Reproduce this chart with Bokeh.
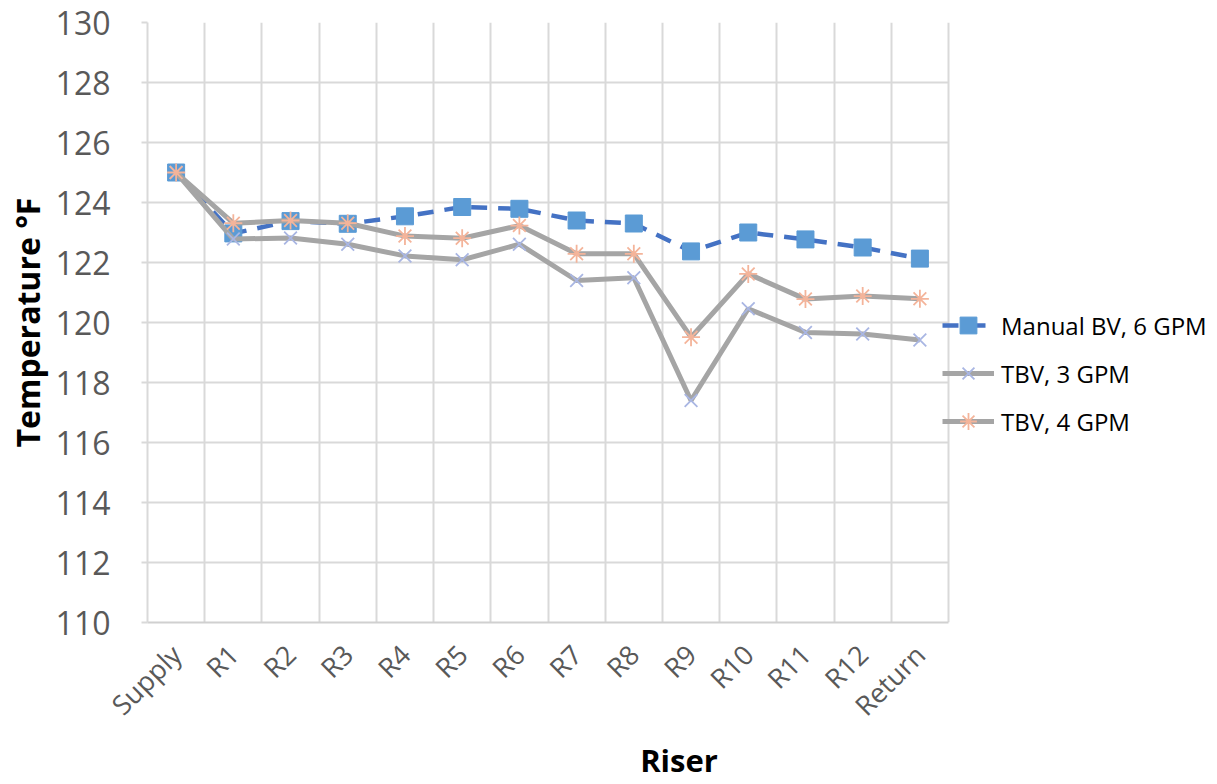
import numpy as np
from bokeh.plotting import figure
from bokeh.models import Legend, LegendItem, FixedTicker, Range1d
from bokeh.embed import file_html
from bokeh.resources import INLINE

categories = ["Supply", "R1", "R2", "R3", "R4", "R5", "R6", "R7", "R8", "R9",
              "R10", "R11", "R12", "Return"]
manual_bv_6 = [125.0, 122.97, 123.38, 123.29, 123.54, 123.85, 123.79, 123.4,
               123.3, 122.37, 123.0, 122.77, 122.5, 122.13]
tbv_3 = [125.0, 122.78, 122.82, 122.61, 122.22, 122.09, 122.61, 121.4,
         121.49, 117.4, 120.46, 119.67, 119.62, 119.42]
tbv_4 = [125.0, 123.31, 123.4, 123.31, 122.88, 122.81, 123.23, 122.29,
         122.29, 119.51, 121.62, 120.78, 120.88, 120.79]
y_ticks = list(range(110, 131, 2))
series_names = ["Manual BV, 6 GPM", "TBV, 3 GPM", "TBV, 4 GPM"]

n = len(categories)
xs = [i + 0.5 for i in range(n)]

FONT = "Open Sans"
W, H = 1210, 784
LEFT, TOP, PLOT_RIGHT, PLOT_BOTTOM = 147, 22, 948, 622
# the frame extends to the right edge so that the legend (inside the frame) is not clipped;
# grid lines and the x axis are bounded to the category area
x_end = n * (W - LEFT) / (PLOT_RIGHT - LEFT)

p = figure(width=W, height=H, output_backend="svg", toolbar_location=None,
           x_range=Range1d(0, x_end), y_range=Range1d(110, 130),
           min_border_left=LEFT, min_border_right=0, min_border_top=TOP,
           min_border_bottom=H - PLOT_BOTTOM)
p.outline_line_color = None
p.background_fill_color = "white"
p.border_fill_color = "white"

# grids
p.xgrid.ticker = FixedTicker(ticks=list(range(0, n + 1)))
p.ygrid.ticker = FixedTicker(ticks=y_ticks)
p.ygrid.cross_bounds = (0, n)
for g in (p.xgrid, p.ygrid):
    g.grid_line_color = "#D9D9D9"
    g.grid_line_width = 2

# x axis
p.xaxis.bounds = (0, n)
p.xaxis.ticker = FixedTicker(ticks=xs)
p.xaxis.major_label_overrides = {x: c for x, c in zip(xs, categories)}
p.xaxis.major_label_orientation = np.pi / 4
p.xaxis.major_label_text_font = FONT
p.xaxis.major_label_text_font_size = "27px"
p.xaxis.major_label_text_color = "#595959"
p.xaxis.major_label_standoff = 21
p.xaxis.major_tick_line_color = None
p.xaxis.minor_tick_line_color = None
p.xaxis.axis_line_color = "#D0D0D0"
p.xaxis.axis_line_width = 2
p.xaxis.axis_label = "Riser"
p.xaxis.axis_label_text_font = FONT
p.xaxis.axis_label_text_font_style = "bold"
p.xaxis.axis_label_text_font_size = "31px"
p.xaxis.axis_label_text_color = "black"
p.xaxis.axis_label_standoff = 0

# y axis
p.yaxis.ticker = FixedTicker(ticks=y_ticks)
p.yaxis.major_label_text_font = FONT
p.yaxis.major_label_text_font_size = "32px"
p.yaxis.major_label_text_color = "#595959"
p.yaxis.major_label_standoff = 31
p.yaxis.major_tick_out = 6
p.yaxis.major_tick_in = 0
p.yaxis.major_tick_line_color = "#D9D9D9"
p.yaxis.major_tick_line_width = 2
p.yaxis.minor_tick_line_color = None
p.yaxis.axis_line_color = "#D9D9D9"
p.yaxis.axis_line_width = 2
p.yaxis.axis_label = "Temperature °F"
p.yaxis.axis_label_text_font = FONT
p.yaxis.axis_label_text_font_style = "bold"
p.yaxis.axis_label_text_font_size = "32px"
p.yaxis.axis_label_text_color = "black"
p.yaxis.axis_label_standoff = 4

# series
l1 = p.line(xs, manual_bv_6, line_color="#4472C4", line_width=4.5, line_dash="16 11")
m1 = p.scatter(xs, manual_bv_6, marker="square", size=17, fill_color="#5B9BD5",
               line_color="#5B9BD5")
l2 = p.line(xs, tbv_3, line_color="#A5A5A5", line_width=5)
m2 = p.scatter(xs, tbv_3, marker="x", size=18, line_color="#A9B6E3", line_width=1.8)
l3 = p.line(xs, tbv_4, line_color="#A5A5A5", line_width=5)
m3 = p.scatter(xs, tbv_4, marker="asterisk", size=18, line_color="#F4B49A", line_width=1.8)

legend = Legend(items=[
    LegendItem(label=series_names[0], renderers=[l1, m1]),
    LegendItem(label=series_names[1], renderers=[l2, m2]),
    LegendItem(label=series_names[2], renderers=[l3, m3]),
], location=(PLOT_RIGHT - LEFT - 6, PLOT_BOTTOM - 442))
legend.background_fill_alpha = 0
legend.border_line_color = None
legend.padding = 0
legend.margin = 0
legend.glyph_width = 52
legend.glyph_height = 42
legend.label_height = 42
legend.spacing = 6
legend.label_standoff = 7
legend.label_text_font = FONT
legend.label_text_font_size = "24px"
legend.label_text_color = "black"
p.add_layout(legend)

open("out.html", "w").write(file_html(p, INLINE))
